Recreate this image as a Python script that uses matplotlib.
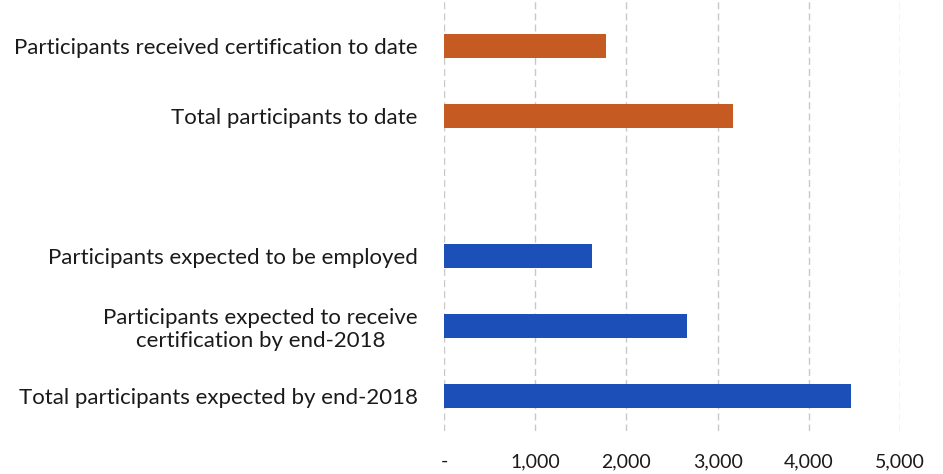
import matplotlib.pyplot as plt
import numpy as np

categories = [
    "Participants received certification to date",
    "Total participants to date",
    "",
    "Participants expected to be employed",
    "Participants expected to receive\ncertification by end-2018",
    "Total participants expected by end-2018",
]
values = [1780, 3170, 0, 1620, 2660, 4460]
bar_colors = ["#C65A23", "#C65A23", "none", "#1D4FB8", "#1D4FB8", "#1D4FB8"]
xticks = [0, 1000, 2000, 3000, 4000, 5000]
xtick_labels = ["-", "1,000", "2,000", "3,000", "4,000", "5,000"]

plt.rcParams["font.family"] = ["Lato", "DejaVu Sans"]

fig = plt.figure(figsize=(9.43, 4.74), dpi=100)
# axes placed in pixel terms: x=0 at 444px, x=5000 at 900px, bottom at 431px
ax = fig.add_axes([444 / 943, 1 - 431 / 474, (900 - 444) / 943, 431 / 474])

y = np.arange(len(categories))
ax.barh(y, values, height=0.34, color=bar_colors, zorder=3)

ax.set_xlim(0, 5000)
ax.set_ylim(5.5, -46 / 70)

ax.set_yticks(y)
ax.set_yticklabels(categories, fontsize=16, color="#1a1a1a",
                   multialignment="center", linespacing=1.2)
ax.tick_params(axis="y", length=0, pad=19)

ax.set_xticks(xticks)
ax.set_xticklabels(xtick_labels, fontsize=14, color="#1a1a1a")
ax.tick_params(axis="x", length=0, pad=16)

ax.grid(axis="x", color="#c8c8c8", linestyle=(0, (5, 3)), linewidth=1, zorder=0)
for s in ax.spines.values():
    s.set_visible(False)

fig.savefig("out.png", dpi=100)
